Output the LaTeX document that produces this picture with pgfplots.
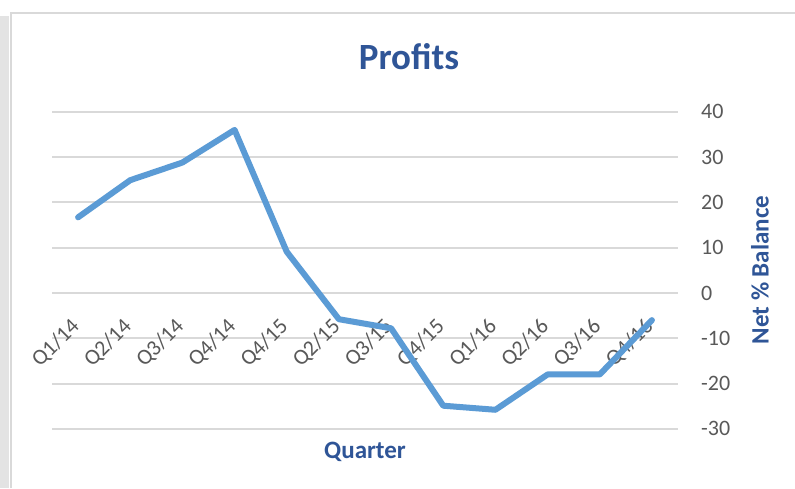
\documentclass[border=0pt]{standalone}
\usepackage{pgfplots}
\pgfplotsset{compat=1.18}
\usepackage{fontspec}
\setmainfont{Carlito}
\definecolor{linecol}{HTML}{5B9BD5}
\definecolor{titlecol}{HTML}{2F5597}
\definecolor{tickcol}{HTML}{595959}
\definecolor{gridcol}{HTML}{D9D9D9}
\definecolor{stripcol}{HTML}{E3E3E3}
\begin{document}
\begin{tikzpicture}[x=1pt,y=1pt]
\path[use as bounding box, fill=white] (0,0) rectangle (795,488);
\fill[stripcol] (0,0) rectangle (9,472);
\draw[gridcol, line width=2pt] (10.5,0) -- (10.5,474.5) -- (795,474.5);
\begin{axis}[
  at={(52pt,59.2pt)}, anchor=south west,
  scale only axis, width=626pt, height=317pt,
  xmin=-0.5, xmax=11.5, ymin=-30, ymax=40,
  axis x line=middle, axis y line=right,
  axis line style={draw=none},
  major tick length=0pt,
  xtick={0,...,11},
  xticklabels={Q1/14,Q2/14,Q3/14,Q4/14,Q4/15,Q2/15,Q3/15,Q4/15,Q1/16,Q2/16,Q3/16,Q4/16},
  ytick={-30,-20,-10,0,10,20,30,40},
  yticklabels={-30,-20,-10,0,10,20,30,40},
  ymajorgrids, grid style={gridcol, line width=2pt},
  tick label style={font=\fontsize{22}{26}\selectfont, text=tickcol},
  xticklabel style={inner sep=0pt, xshift=-2pt, yshift=-30pt, rotate=45, anchor=east},
  yticklabel style={inner sep=0pt, anchor=west, xshift=23pt},
  clip=false,
]
\addplot[linecol, line width=6pt, line join=round, line cap=round] coordinates {
 (0,16.7) (1,24.9) (2,28.8) (3,36.0) (4,9.1) (5,-5.8) (6,-7.8) (7,-24.9) (8,-25.8) (9,-18.0) (10,-18.0) (11,-6.0)
};
\end{axis}
\node[font=\fontsize{37}{40}\selectfont\bfseries, text=titlecol] at (409,431) {Profits};
\node[font=\fontsize{25}{28}\selectfont\bfseries, text=titlecol] at (365,36) {Quarter};
\node[font=\fontsize{25}{28}\selectfont\bfseries, text=titlecol, rotate=90] at (760,218) {Net \% Balance};
\end{tikzpicture}
\end{document}
